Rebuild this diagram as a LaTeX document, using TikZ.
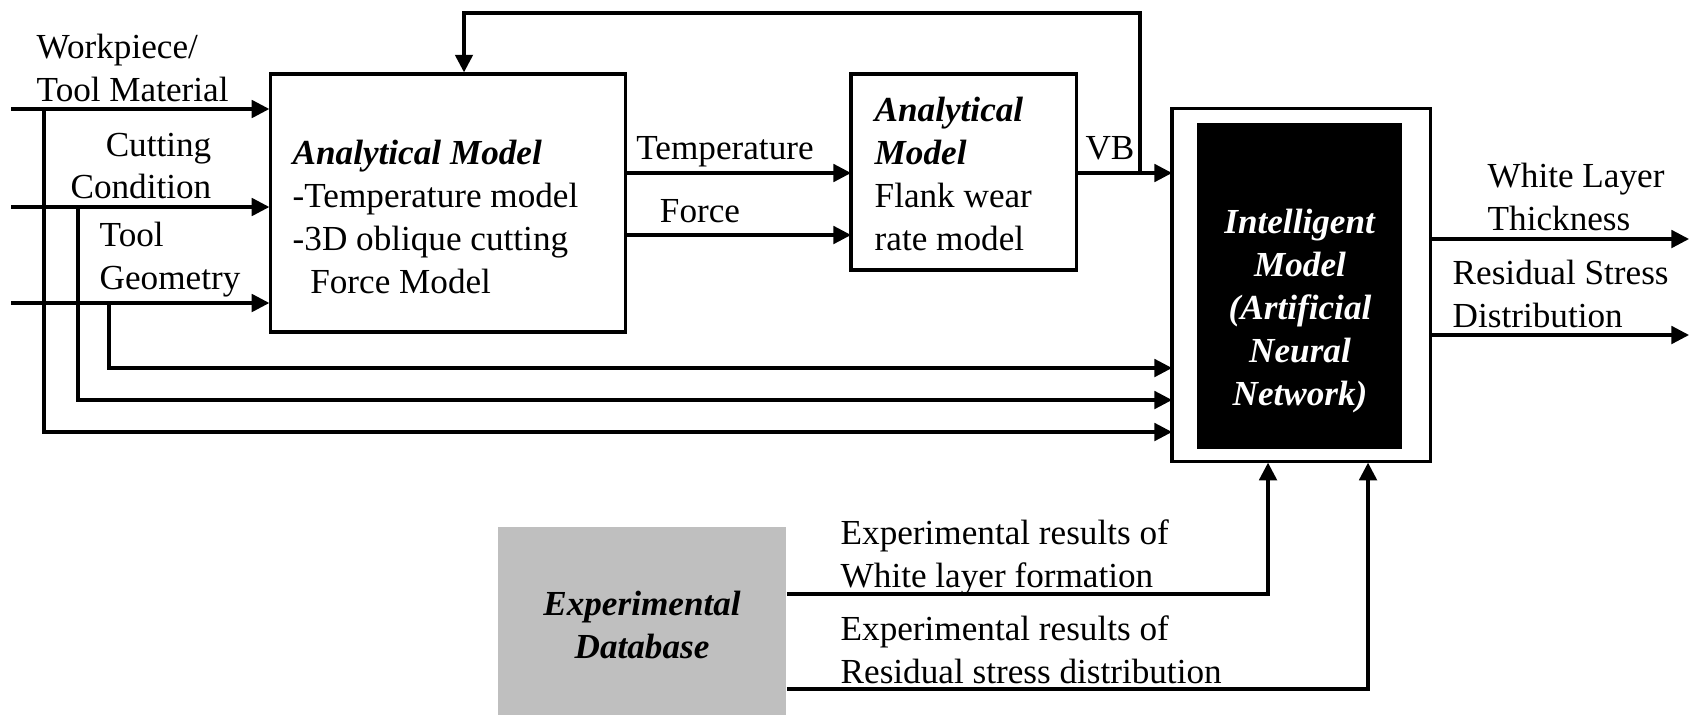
\documentclass[tikz,border=0pt]{standalone}
\usepackage{fontspec}
\setmainfont{Liberation Serif}
\usepackage{tikz}
\usetikzlibrary{arrows.meta,calc}
\tikzstyle{block}=[draw, rectangle, line width=0.9pt, inner sep=0pt]
\tikzstyle{txt}=[inner sep=0pt, align=left, font=\fontsize{10}{12.2}\selectfont]
\newcommand{\block}{\node[block]}
\newcommand{\bi}[1]{\textbf{\textit{#1}}}

\begin{document}
\begin{tikzpicture}[x=0.01cm, y=0.01cm]
	\tikzstyle{flow}=[draw, line width=0.9pt, -{Triangle[length=5pt,width=5pt]}]
	\useasboundingbox (0,0) rectangle (1692,-715);
	% Blocs
	\block (am1) at (448,-203) [minimum width=3.54cm, minimum height=2.58cm] {};
	\block (am2) at (963.5,-172) [minimum width=2.25cm, minimum height=1.96cm] {};
	\block (im) at (1301,-285) [minimum width=2.58cm, minimum height=3.52cm] {};
	\node[fill=black, inner sep=0pt, minimum width=2.05cm, minimum height=3.26cm] (nn) at (1299.5,-286) {};
	\node[fill=gray!50, inner sep=0pt, minimum width=2.88cm, minimum height=1.88cm] (db) at (642,-621) {};
	% Textes des blocs
	\node[txt, anchor=west] (am1txt) at (292,-217) {\bi{Analytical Model}\\-Temperature model\\-3D oblique cutting\\\hspace*{5pt}Force Model};
	\node[txt, anchor=west] (am2txt) at (874,-174) {\bi{Analytical}\\\bi{Model}\\Flank wear\\rate model};
	\node[txt, align=center, text=white] (nntxt) at (1300,-311) {\bi{Intelligent}\\\bi{Model}\\\bi{(Artificial}\\\bi{Neural}\\\bi{Network)}};
	\node[txt, align=center] (dbtxt) at (642,-625) {\bi{Experimental}\\\bi{Database}};
	% Entrees
	\node[txt, anchor=west] (l1) at (36,-68) {Workpiece/\\Tool Material};
	\node[txt, anchor=east, align=right] (l2) at (212,-166) {Cutting\\Condition};
	\node[txt, anchor=west] (l3) at (99,-260) {Tool\\Geometry};
	\coordinate (in1) at (11,-109);
	\coordinate (in2) at (11,-207);
	\coordinate (in3) at (11,-303);
	\coordinate (j1) at (44,-109);
	\coordinate (j2) at (78,-207);
	\coordinate (j3) at (109,-303);
	\coordinate (r1) at (1172,-432);
	\coordinate (r2) at (1172,-400);
	\coordinate (r3) at (1172,-368);
	\draw[flow] (in1) -- (in1 -| am1.west);
	\draw[flow] (in2) -- (in2 -| am1.west);
	\draw[flow] (in3) -- (in3 -| am1.west);
	\draw[flow] (j1) |- (r1);
	\draw[flow] (j2) |- (r2);
	\draw[flow] (j3) |- (r3);
	% Liaisons entre modeles
	\coordinate (t2) at (851,-173);
	\coordinate (f2) at (851,-235);
	\coordinate (vb) at (1172,-173);
	\coordinate (fb) at (1140,-173);
	\coordinate (fbtop) at (464,-13);
	\path
	(am1.east |- t2) edge[flow] (t2)
	(am1.east |- f2) edge[flow] (f2)
	(am2.east |- vb) edge[flow] (vb)
	;
	\draw[flow] (fb) |- (fbtop) -- (fbtop |- am1.north);
	\node[txt, anchor=base] (tlab) at (725,-159) {Temperature};
	\node[txt, anchor=base] (flab) at (700,-222) {Force};
	\node[txt, anchor=base] (vblab) at (1110,-159) {VB};
	% Sorties
	\coordinate (o1) at (1689,-239);
	\coordinate (o2) at (1689,-335);
	\draw[flow] (im.east |- o1) -- (o1);
	\draw[flow] (im.east |- o2) -- (o2);
	\node[txt, anchor=west] (o1lab) at (1487,-197) {White Layer\\Thickness};
	\node[txt, anchor=west] (o2lab) at (1452,-294) {Residual Stress\\Distribution};
	% Base experimentale
	\coordinate (e1) at (1268,-594);
	\coordinate (e2) at (1368,-689);
	\draw[flow] (db.east |- e1) -- (e1) -- (e1 |- im.south);
	\draw[flow] (db.east |- e2) -- (e2) -- (e2 |- im.south);
	\node[txt, anchor=west] (e1lab) at (840,-557) {Experimental results of\\White layer formation};
	\node[txt, anchor=west] (e2lab) at (840,-650) {Experimental results of\\Residual stress distribution};
\end{tikzpicture}
\end{document}
